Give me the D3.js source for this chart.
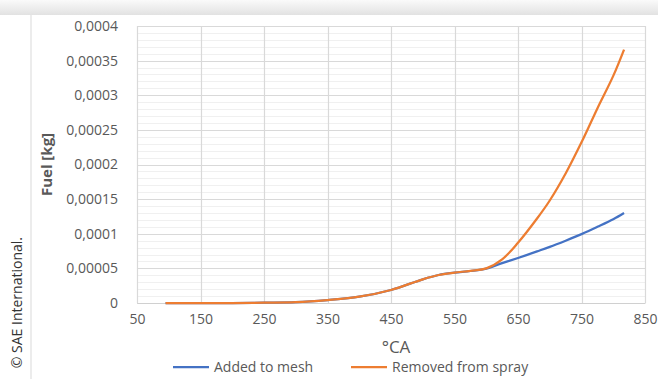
<!DOCTYPE html>
<html>
<head>
<meta charset="utf-8">
<script src="https://cdn.jsdelivr.net/npm/d3@7"></script>
<style>
  body { margin: 0; background: #fff; }
  svg { display: block; }
</style>
</head>
<body>
<div id="chart"></div>
<script>
// crank angle samples (°CA)
var angles = [95, 150, 200, 250, 300, 350, 400, 450, 500, 525, 550, 575, 600, 625, 650, 680, 700, 725, 750, 775, 800, 817];
// fuel mass, kg
var addedToMesh = [0, 0, 0, 0.0000005, 0.0000012, 0.0000043, 0.0000091, 0.0000188, 0.0000342, 0.0000404, 0.0000438, 0.0000462, 0.0000496, 0.0000575, 0.000065, 0.0000745, 0.000081, 0.00009, 0.0000995, 0.00011, 0.000121, 0.00013];
var removedFromSpray = [0, 0, 0, 0.0000005, 0.0000012, 0.0000043, 0.0000091, 0.0000188, 0.0000342, 0.0000404, 0.0000438, 0.0000465, 0.00005, 0.000063, 0.000087, 0.000122, 0.000148, 0.000187, 0.000232, 0.000281, 0.000328, 0.000366];
var xTicks = [50, 150, 250, 350, 450, 550, 650, 750, 850];
var yTicks = [0, 0.00005, 0.0001, 0.00015, 0.0002, 0.00025, 0.0003, 0.00035, 0.0004];
var yTickLabels = ["0", "0,00005", "0,0001", "0,00015", "0,0002", "0,00025", "0,0003", "0,00035", "0,0004"];

var width = 658, height = 379;
var margin = {top: 26, right: 13, bottom: 76, left: 137};
var font = "'Open Sans', 'Noto Sans', sans-serif";

var svg = d3.select("#chart").append("svg")
  .attr("width", width)
  .attr("height", height);

// card shadow
var defs = svg.append("defs");
var grad = defs.append("linearGradient").attr("id", "topShade")
  .attr("x1", 0).attr("y1", 0).attr("x2", 0).attr("y2", 1);
grad.append("stop").attr("offset", "0%").attr("stop-color", "#fafafa");
grad.append("stop").attr("offset", "100%").attr("stop-color", "#e2e2e2");
svg.append("rect").attr("x", 0).attr("y", 0).attr("width", width).attr("height", 15)
  .attr("fill", "url(#topShade)");
svg.append("rect").attr("x", 31).attr("y", 15).attr("width", width - 31).attr("height", height - 15)
  .attr("fill", "#fff");
svg.append("line").attr("x1", 31).attr("x2", 31).attr("y1", 15).attr("y2", height)
  .attr("stroke", "#e6e6e6").attr("stroke-width", 1.5);

var x = d3.scaleLinear().domain([50, 850]).range([margin.left, width - margin.right]);
var y = d3.scaleLinear().domain([0, 0.0004]).range([height - margin.bottom, margin.top]);

// minor horizontal grid
var minor = d3.range(0, 0.0004001, 0.00001);
svg.append("g").selectAll("line").data(minor).enter().append("line")
  .attr("x1", x(50)).attr("x2", x(850))
  .attr("y1", function(d){ return Math.round(y(d)) + 0.5; })
  .attr("y2", function(d){ return Math.round(y(d)) + 0.5; })
  .attr("stroke", "#f0f0f0").attr("stroke-width", 1);

// major grid
svg.append("g").selectAll("line").data(yTicks).enter().append("line")
  .attr("x1", x(50)).attr("x2", x(850))
  .attr("y1", function(d){ return Math.round(y(d)) + 0.5; })
  .attr("y2", function(d){ return Math.round(y(d)) + 0.5; })
  .attr("stroke", "#d9d9d9").attr("stroke-width", 1.2);
svg.append("g").selectAll("line").data(xTicks).enter().append("line")
  .attr("x1", function(d){ return Math.round(x(d)) + 0.5; })
  .attr("x2", function(d){ return Math.round(x(d)) + 0.5; })
  .attr("y1", y(0)).attr("y2", y(0.0004))
  .attr("stroke", "#d9d9d9").attr("stroke-width", 1.2);

// axes
var xAxis = d3.axisBottom(x).tickValues(xTicks).tickSize(0).tickPadding(11);
var gx = svg.append("g").attr("transform", "translate(0," + y(0) + ")").call(xAxis);
gx.select(".domain").attr("stroke", "#d0d0d0");
gx.selectAll("text").attr("fill", "#595959").style("font-family", font).style("font-size", "14px");

var yAxis = d3.axisLeft(y).tickValues(yTicks).tickSize(0).tickPadding(19)
  .tickFormat(function(d, i){ return yTickLabels[i]; });
var gy = svg.append("g").attr("transform", "translate(" + x(50) + ",0)").call(yAxis);
gy.select(".domain").remove();
gy.selectAll("text").attr("fill", "#595959").style("font-family", font).style("font-size", "14px");

// lines
var line = function(vals){
  return d3.line()
    .x(function(d, i){ return x(angles[i]); })
    .y(function(d){ return y(d); })
    .curve(d3.curveCatmullRom.alpha(0.5))(vals);
};
svg.append("path").attr("d", line(addedToMesh))
  .attr("fill", "none").attr("stroke", "#4472C4").attr("stroke-width", 2.25);
svg.append("path").attr("d", line(removedFromSpray))
  .attr("fill", "none").attr("stroke", "#ED7D31").attr("stroke-width", 2.25);

// titles
svg.append("text").attr("x", 396).attr("y", 353)
  .attr("text-anchor", "middle").attr("fill", "#595959")
  .style("font-family", font).style("font-size", "17px").text("°CA");
svg.append("text")
  .attr("transform", "translate(52," + ((y(0) + y(0.0004)) / 2) + ") rotate(-90)")
  .attr("text-anchor", "middle").attr("fill", "#595959")
  .style("font-family", font).style("font-size", "15px").style("font-weight", "bold")
  .text("Fuel [kg]");

// legend
var legend = [
  {name: "Added to mesh", color: "#4472C4", x: 173},
  {name: "Removed from spray", color: "#ED7D31", x: 351}
];
var lg = svg.append("g").selectAll("g").data(legend).enter().append("g")
  .attr("transform", function(d){ return "translate(" + d.x + ",367)"; });
lg.append("line").attr("x1", 0).attr("x2", 36).attr("y1", 0).attr("y2", 0)
  .attr("stroke", function(d){ return d.color; }).attr("stroke-width", 2.25);
lg.append("text").attr("x", 41).attr("y", 5).attr("fill", "#595959")
  .style("font-family", font).style("font-size", "14px")
  .text(function(d){ return d.name; });

// credit
svg.append("text")
  .attr("transform", "translate(22,237) rotate(-90)")
  .attr("text-anchor", "end").attr("fill", "#333")
  .style("font-family", font).style("font-size", "14px")
  .text("© SAE International.");
</script>
</body>
</html>
